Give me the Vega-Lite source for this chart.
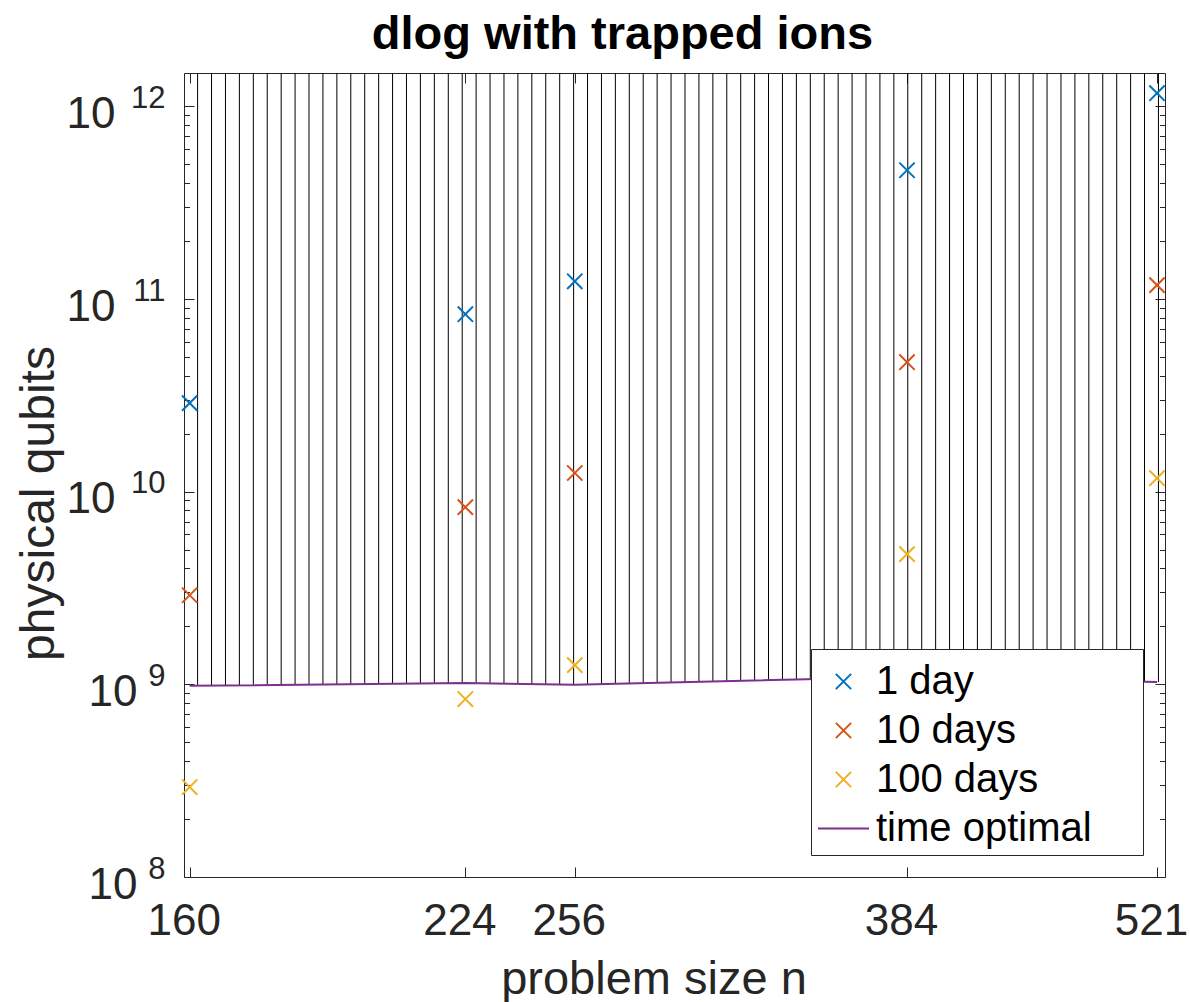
{
  "$schema": "https://vega.github.io/schema/vega-lite/v6.json",
  "width": 981,
  "height": 804,
  "autosize": {"type": "none"},
  "padding": {"left": 184, "top": 73, "right": 25, "bottom": 125},
  "background": "white",
  "title": {"text": "dlog with trapped ions", "font": "Liberation Sans", "fontSize": 47, "fontWeight": "bold", "color": "black", "anchor": "middle", "frame": "group", "baseline": "alphabetic", "offset": -23, "dx": -52},
  "datasets": {
    "hatch": [
      {"hx": 161.56, "hy": 983800000}, {"hx": 164.33, "hy": 985300000}, {"hx": 167.15, "hy": 987000000}, {"hx": 170.01, "hy": 988600000},
      {"hx": 172.93, "hy": 990100000}, {"hx": 175.89, "hy": 991800000}, {"hx": 178.91, "hy": 993400000}, {"hx": 181.97, "hy": 995000000},
      {"hx": 185.09, "hy": 996700000}, {"hx": 188.26, "hy": 998300000}, {"hx": 191.49, "hy": 999900000}, {"hx": 194.77, "hy": 1001600000},
      {"hx": 198.11, "hy": 1003200000}, {"hx": 201.51, "hy": 1004800000}, {"hx": 204.96, "hy": 1006500000}, {"hx": 208.47, "hy": 1008100000},
      {"hx": 212.04, "hy": 1009700000}, {"hx": 215.68, "hy": 1011300000}, {"hx": 219.38, "hy": 1013000000}, {"hx": 223.14, "hy": 1014700000},
      {"hx": 226.96, "hy": 1013100000}, {"hx": 230.85, "hy": 1010400000}, {"hx": 234.81, "hy": 1007900000}, {"hx": 238.83, "hy": 1005300000},
      {"hx": 242.93, "hy": 1002800000}, {"hx": 247.09, "hy": 1000100000}, {"hx": 251.33, "hy": 997700000}, {"hx": 255.64, "hy": 995000000},
      {"hx": 260.02, "hy": 998100000}, {"hx": 264.48, "hy": 1002100000}, {"hx": 269.0, "hy": 1006000000}, {"hx": 273.61, "hy": 1009900000},
      {"hx": 278.3, "hy": 1014000000}, {"hx": 283.07, "hy": 1018100000}, {"hx": 287.92, "hy": 1022100000}, {"hx": 292.86, "hy": 1026200000},
      {"hx": 297.88, "hy": 1030200000}, {"hx": 302.99, "hy": 1034200000}, {"hx": 308.18, "hy": 1038300000}, {"hx": 313.46, "hy": 1042600000},
      {"hx": 318.83, "hy": 1046700000}, {"hx": 324.29, "hy": 1050800000}, {"hx": 329.85, "hy": 1054900000}, {"hx": 335.5, "hy": 1059200000},
      {"hx": 341.25, "hy": 1063500000}, {"hx": 347.1, "hy": 1067700000}, {"hx": 353.05, "hy": 1071900000}, {"hx": 359.1, "hy": 1076100000},
      {"hx": 365.25, "hy": 1080500000}, {"hx": 371.51, "hy": 1084700000}, {"hx": 377.88, "hy": 1089200000}, {"hx": 384.36, "hy": 1092900000},
      {"hx": 390.95, "hy": 1089300000}, {"hx": 397.65, "hy": 1085500000}, {"hx": 404.47, "hy": 1081800000}, {"hx": 411.4, "hy": 1078000000},
      {"hx": 418.45, "hy": 1074300000}, {"hx": 425.62, "hy": 1070500000}, {"hx": 432.92, "hy": 1066900000}, {"hx": 440.34, "hy": 1063200000},
      {"hx": 447.89, "hy": 1059500000}, {"hx": 455.57, "hy": 1055800000}, {"hx": 463.38, "hy": 1052200000}, {"hx": 471.32, "hy": 1048500000},
      {"hx": 479.4, "hy": 1044800000}, {"hx": 487.62, "hy": 1041300000}, {"hx": 495.98, "hy": 1037600000}, {"hx": 504.48, "hy": 1034000000},
      {"hx": 513.12, "hy": 1030500000}, {"hx": 521.91, "hy": 1026900000}
    ],
    "opt": [
      {"n": 160, "q": 982800000, "series": "time optimal"},
      {"n": 224, "q": 1015000000, "series": "time optimal"},
      {"n": 256, "q": 994600000, "series": "time optimal"},
      {"n": 384, "q": 1093000000, "series": "time optimal"},
      {"n": 521, "q": 1027300000, "series": "time optimal"}
    ],
    "pts": [
      {"n": 160, "q": 2.88e10, "series": "1 day"},
      {"n": 224, "q": 8.34e10, "series": "1 day"},
      {"n": 256, "q": 1.236e11, "series": "1 day"},
      {"n": 384, "q": 4.66e11, "series": "1 day"},
      {"n": 521, "q": 1.17e12, "series": "1 day"},
      {"n": 160, "q": 2.9e9, "series": "10 days"},
      {"n": 224, "q": 8.31e9, "series": "10 days"},
      {"n": 256, "q": 1.25e10, "series": "10 days"},
      {"n": 384, "q": 4.7e10, "series": "10 days"},
      {"n": 521, "q": 1.18e11, "series": "10 days"},
      {"n": 160, "q": 2.93e8, "series": "100 days"},
      {"n": 224, "q": 8.39e8, "series": "100 days"},
      {"n": 256, "q": 1.259e9, "series": "100 days"},
      {"n": 384, "q": 4.74e9, "series": "100 days"},
      {"n": 521, "q": 1.175e10, "series": "100 days"}
    ]
  },
  "layer": [
    {
      "data": {"name": "hatch"},
      "mark": {"type": "rule", "color": "black", "strokeWidth": 1},
      "encoding": {
        "x": {"field": "hx", "type": "quantitative",
          "scale": {"type": "log", "domain": [158.9, 526.1], "nice": false},
          "axis": {"orient": "bottom", "values": [160, 224, 256, 384, 521], "format": "d", "labelBaseline": "alphabetic", "labelPadding": 67, "labelOffset": -6, "tickSize": -10,
            "title": "problem size n", "titleFontSize": 47, "titleX": 469.5, "titleY": 116, "titleAlign": "center", "titleBaseline": "alphabetic", "titleAngle": 0}},
        "y": {"field": "hy", "type": "quantitative",
          "scale": {"type": "log", "domain": [1e8, 1.49e12], "nice": false},
          "axis": {"orient": "left",
            "values": [1e8, 2e8, 3e8, 4e8, 5e8, 6e8, 7e8, 8e8, 9e8, 1e9, 2e9, 3e9, 4e9, 5e9, 6e9, 7e9, 8e9, 9e9, 1e10, 2e10, 3e10, 4e10, 5e10, 6e10, 7e10, 8e10, 9e10, 1e11, 2e11, 3e11, 4e11, 5e11, 6e11, 7e11, 8e11, 9e11, 1e12],
            "labelExpr": "abs(log(datum.value)/LN10 - round(log(datum.value)/LN10)) < 0.001 ? '10' : ''",
            "tickSize": {"condition": {"test": "abs(log(datum.value)/LN10 - round(log(datum.value)/LN10)) < 0.001", "value": -10}, "value": -5.5},
            "labelPadding": {"condition": {"test": "datum.value > 5e9", "value": 79}, "value": 57},
            "labelBaseline": "alphabetic", "labelOffset": 21,
            "title": "physical qubits", "titleFontSize": 48, "titleAngle": 270, "titleX": -131, "titleY": 430, "titleAlign": "center", "titleBaseline": "alphabetic"}},
        "y2": {"datum": 1.49e12}
      }
    },
    {
      "data": {"name": "opt"},
      "mark": {"type": "line", "strokeWidth": 2},
      "encoding": {
        "x": {"field": "n", "type": "quantitative",
          "scale": {"type": "log", "domain": [158.9, 526.1], "nice": false},
          "axis": {"orient": "top", "values": [160, 224, 256, 384, 521], "labels": false, "tickSize": -10, "title": null}},
        "y": {"field": "q", "type": "quantitative",
          "scale": {"type": "log", "domain": [1e8, 1.49e12], "nice": false},
          "axis": {"orient": "right",
            "values": [1e8, 2e8, 3e8, 4e8, 5e8, 6e8, 7e8, 8e8, 9e8, 1e9, 2e9, 3e9, 4e9, 5e9, 6e9, 7e9, 8e9, 9e9, 1e10, 2e10, 3e10, 4e10, 5e10, 6e10, 7e10, 8e10, 9e10, 1e11, 2e11, 3e11, 4e11, 5e11, 6e11, 7e11, 8e11, 9e11, 1e12],
            "labels": false, "title": null,
            "tickSize": {"condition": {"test": "abs(log(datum.value)/LN10 - round(log(datum.value)/LN10)) < 0.001", "value": -10}, "value": -5.5}}},
        "color": {"field": "series", "type": "nominal",
          "scale": {"domain": ["1 day", "10 days", "100 days", "time optimal"], "range": ["#0072BD", "#D95319", "#EDB120", "#7E2F8E"]},
          "legend": {"title": null, "labelExpr": "datum.label + '\u00a0\u00a0\u00a0\u00a0\u200b'"}}
      }
    },
    {
      "data": {"name": "pts"},
      "mark": {"type": "point", "filled": false, "opacity": 1, "strokeWidth": 2, "size": 2600},
      "encoding": {
        "x": {"field": "n", "type": "quantitative",
          "scale": {"type": "log", "domain": [158.9, 526.1], "nice": false}, "axis": null},
        "y": {"field": "q", "type": "quantitative",
          "scale": {"type": "log", "domain": [1e8, 1.49e12], "nice": false},
          "axis": {"orient": "left", "values": [1e8, 1e9, 1e10, 1e11, 1e12],
            "labelExpr": "format(round(log(datum.value)/LN10), 'd')",
            "ticks": false, "domain": false, "title": null,
            "labelFontSize": 31, "labelPadding": 19, "labelBaseline": "alphabetic", "labelOffset": 1}},
        "color": {"field": "series", "type": "nominal",
          "scale": {"domain": ["1 day", "10 days", "100 days", "time optimal"], "range": ["#0072BD", "#D95319", "#EDB120", "#7E2F8E"]},
          "legend": {"title": null, "labelExpr": "datum.label + '\u00a0\u00a0\u00a0\u00a0\u200b'"}},
        "shape": {"field": "series", "type": "nominal",
          "scale": {"domain": ["1 day", "10 days", "100 days", "time optimal"],
            "range": ["M-0.3,-0.3L0.3,0.3M-0.3,0.3L0.3,-0.3", "M-0.3,-0.3L0.3,0.3M-0.3,0.3L0.3,-0.3", "M-0.3,-0.3L0.3,0.3M-0.3,0.3L0.3,-0.3", "stroke"]},
          "legend": {"title": null, "labelExpr": "datum.label + '\u00a0\u00a0\u00a0\u00a0\u200b'"}}
      }
    }
  ],
  "resolve": {"axis": {"x": "independent", "y": "independent"}},
  "config": {
    "view": {"stroke": null},
    "font": "Liberation Sans",
    "axis": {"grid": false, "labelFont": "Liberation Sans", "labelColor": "#262626", "labelFontSize": 44,
      "tickColor": "#262626", "tickWidth": 1, "domainColor": "#262626", "domainWidth": 1,
      "labelFlush": false, "labelOverlap": false, "labelBound": false,
      "titleFont": "Liberation Sans", "titleFontSize": 44, "titleFontWeight": "normal", "titleColor": "#262626"},
    "legend": {"orient": "bottom-right", "offset": 22, "padding": 6, "fillColor": "white", "strokeColor": "#262626", "cornerRadius": 0,
      "labelFont": "Liberation Sans", "labelFontSize": 40, "labelColor": "black", "symbolSize": 2601, "symbolStrokeWidth": 2,
      "rowPadding": 2, "labelOffset": 6, "labelLimit": 0}
  }
}
